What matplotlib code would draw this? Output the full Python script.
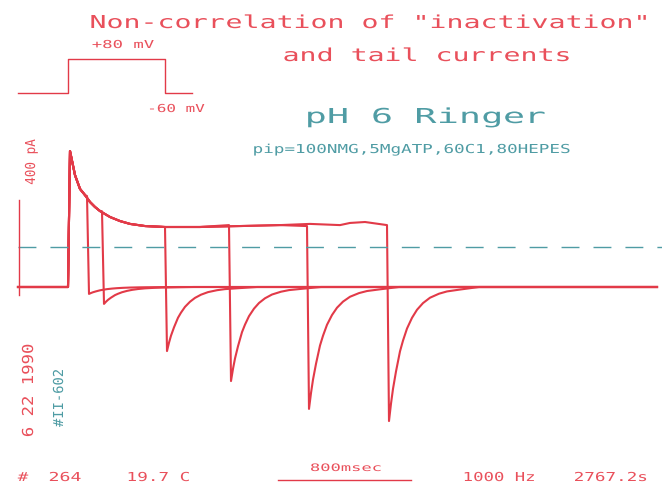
import numpy as np
import matplotlib
matplotlib.use("Agg")
import matplotlib.pyplot as plt
from matplotlib import patheffects
from matplotlib.transforms import Affine2D

# chart recorder scaling
MS_PX = 6.0      # ms per pixel
PA_PX = 4.2      # pA per pixel

RED = "#e23a48"
TXT_RED = "#e9505b"
TEAL = "#4f9ca4"

# voltage protocol (mV) and timing (ms)
hold_mv = -60
step_mv = 80
step_on = 300
t_end = 3834
proto_off = 882
proto_stop = 1044

# six sweeps, pulse end times (ms), current just before repolarisation (pA)
pulse_end = [414, 504, 882, 1266, 1734, 2214]
i_end = [382, 318, 252, 260, 256, 260]
# peak inward tail current at -60 mV (pA)
tail_min = [-29, -71, -269, -395, -512, -563]

# outward current during the +80 mV step, time after step onset (ms)
decay_t = [0, 12, 42, 72, 102, 132, 162, 192, 252, 312, 372, 462, 582,
           792, 1032, 1272, 1452, 1632, 1692, 1782, 1914]
decay_i = [0, 571, 470, 412, 386, 357, 336, 319, 294, 277, 265, 256, 252,
           252, 256, 260, 265, 260, 269, 273, 260]

# tail relaxation, time after the tail peak (ms) and fraction of peak
tail_delay = 12
tail_t = [0, 12, 24, 42, 66, 84, 108, 138, 168, 204, 246, 300, 348, 426, 540]
tail_frac = [1, 0.87, 0.76, 0.63, 0.48, 0.40, 0.31, 0.23, 0.17, 0.12, 0.08,
             0.05, 0.033, 0.019, 0]

dash_level = 168     # pA
bar_pa = 400
bar_ms = 800


class Stretch(patheffects.AbstractPathEffect):
    """Widen a glyph about its centre, like the plotter's lettering."""

    def __init__(self, sx):
        super().__init__()
        self._sx = sx

    def draw_path(self, renderer, gc, tpath, affine, rgbFace=None):
        ext = tpath.get_extents()
        cx = (ext.x0 + ext.x1) / 2
        widen = Affine2D().translate(-cx, 0).scale(self._sx, 1).translate(cx, 0)
        gc.set_snap(False)   # keep thin bars such as '-' from collapsing
        renderer.draw_path(gc, tpath, widen + affine, rgbFace)


def sweep(k):
    rel = np.array(decay_t)
    cur = np.array(decay_i)
    keep = rel < pulse_end[k] - step_on
    t = [0, step_on] + list(step_on + rel[keep]) + [pulse_end[k]]
    i = [0, 0] + list(cur[keep]) + [i_end[k]]
    t += list(pulse_end[k] + tail_delay + np.array(tail_t)) + [t_end]
    i += list(tail_min[k] * np.array(tail_frac)) + [0]
    return t, i


def pen(ax, x, y, s, pitch, cap, color, vertical=False):
    # plotter lettering, one glyph per fixed cell starting at x (or y going up)
    # cap = capital height (px), pitch = cell width (px)
    em = cap / 0.729
    fx = [Stretch(pitch / (0.602 * em))]
    for k, ch in enumerate(s):
        if ch == " ":
            continue
        c = (k + 0.5) * pitch
        if vertical:
            ax.text(x, y - c, ch, fontsize=em * 0.72, family="DejaVu Sans Mono",
                    color=color, ha="center", va="baseline", rotation=90,
                    rotation_mode="anchor", path_effects=fx)
        else:
            ax.text(x + c, y, ch, fontsize=em * 0.72, family="DejaVu Sans Mono",
                    color=color, ha="center", va="baseline", path_effects=fx)


fig = plt.figure(figsize=(6.62, 4.84), dpi=100)
fig.patch.set_facecolor("white")

# current traces
ax = fig.add_axes([0, 0, 1, 1])
ax.axis("off")

for k in range(len(pulse_end)):
    t, i = sweep(k)
    ax.plot(t, i, color=RED, lw=1.5, solid_joinstyle="round")

ax.plot([0, 3870], [dash_level, dash_level], color=TEAL, lw=1.0,
        linestyle=(0, (12.9, 10.1)))

# scale bars
ax.plot([6, 6], [-33, -33 + bar_pa], color=RED, lw=1.0)
ax.plot([1560, 1560 + bar_ms], [-811, -811], color=RED, lw=1.0)

ax.set_xlim(-18 * MS_PX, (662 - 18) * MS_PX)
ax.set_ylim((287 - 484) * PA_PX, 287 * PA_PX)

# voltage protocol inset
axv = fig.add_axes([0, 0, 1, 1])
axv.axis("off")
axv.plot([0, step_on, step_on, proto_off, proto_off, proto_stop],
         [hold_mv, hold_mv, step_mv, step_mv, hold_mv, hold_mv],
         color=RED, lw=1.0)
axv.set_xlim(ax.get_xlim())
axv.set_ylim(-60 - (484 - 93) / 0.2393, 80 + 59.5 / 0.2393)

# lettering, pixel coordinates
axt = fig.add_axes([0, 0, 1, 1])
axt.axis("off")
axt.set_xlim(0, 662)
axt.set_ylim(484, 0)

pen(axt, 89.5, 28, 'Non-correlation of "inactivation"', 17, 13, TXT_RED)
pen(axt, 282.5, 61, 'and tail currents', 17, 13, TXT_RED)
pen(axt, 305, 123, 'pH 6 Ringer', 22, 15, TEAL)
pen(axt, 252.7, 153, 'pip=100NMG,5MgATP,60C1,80HEPES', 10.6, 9, TEAL)
pen(axt, 91.8, 48, '+80 mV', 10.4, 8, TXT_RED)
pen(axt, 147.2, 112, '-60 mV', 9.6, 8, TXT_RED)

pen(axt, 35, 184.8, '400 pA', 7.6, 10, TXT_RED, vertical=True)
pen(axt, 33, 437.2, '6 22 1990', 10.4, 11, TXT_RED, vertical=True)
pen(axt, 63, 427, '#II-602', 8.3, 10, TEAL, vertical=True)

pen(axt, 17.8, 481, '#', 10.5, 9, TXT_RED)
pen(axt, 48.5, 481, '264', 11.0, 9, TXT_RED)
pen(axt, 126.7, 481, '19.7 C', 10.6, 9, TXT_RED)
pen(axt, 309.9, 471, '800msec', 10.3, 7.5, TXT_RED)
pen(axt, 462.8, 481, '1000 Hz', 10.4, 9, TXT_RED)
pen(axt, 573.7, 481, '2767.2s', 10.6, 9, TXT_RED)

fig.savefig("out.png", dpi=100)
